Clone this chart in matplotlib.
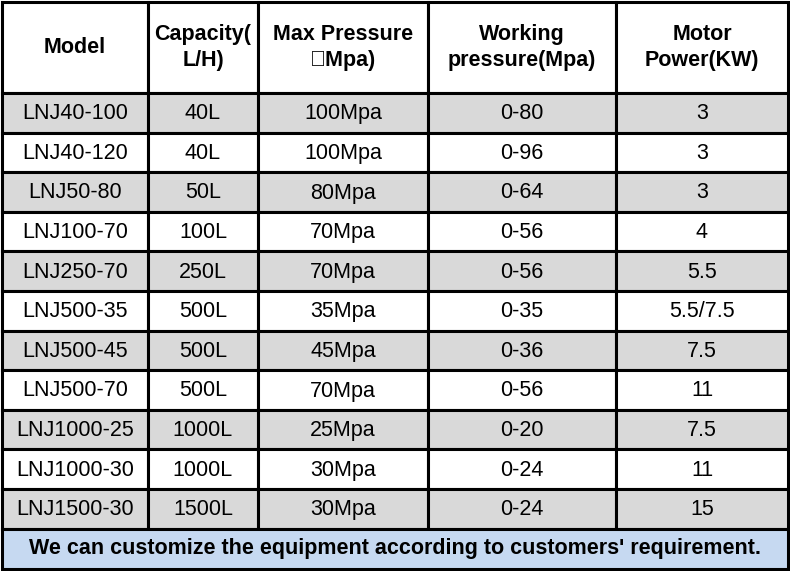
import matplotlib.pyplot as plt
from matplotlib.patches import Rectangle

headers = ["Model", "Capacity(\nL/H)", "Max Pressure\n\uff08Mpa)", "Working\npressure(Mpa)", "Motor\nPower(KW)"]
models = ["LNJ40-100", "LNJ40-120", "LNJ50-80", "LNJ100-70", "LNJ250-70", "LNJ500-35",
          "LNJ500-45", "LNJ500-70", "LNJ1000-25", "LNJ1000-30", "LNJ1500-30"]
capacity = ["40L", "40L", "50L", "100L", "250L", "500L", "500L", "500L", "1000L", "1000L", "1500L"]
max_pressure = ["100Mpa", "100Mpa", "80Mpa", "70Mpa", "70Mpa", "35Mpa", "45Mpa", "70Mpa",
                "25Mpa", "30Mpa", "30Mpa"]
working = ["0-80", "0-96", "0-64", "0-56", "0-56", "0-35", "0-36", "0-56", "0-20", "0-24", "0-24"]
power = ["3", "3", "3", "4", "5.5", "5.5/7.5", "7.5", "11", "7.5", "11", "15"]
footer = "We can customize the equipment according to customers' requirement."

col_x = [2, 148, 258, 428, 616, 788]
header_top, header_bot = 2, 93
row_h = 39.6
footer_bot = 569

fig = plt.figure(figsize=(7.9, 5.71), dpi=100)
ax = fig.add_axes([0, 0, 1, 1])
ax.set_xlim(0, 790)
ax.set_ylim(571, 0)
ax.axis("off")

font = ["Liberation Sans", "Noto Sans CJK SC"]
lw = 2.2

# header
for i, h in enumerate(headers):
    x0, x1 = col_x[i], col_x[i + 1]
    ax.add_patch(Rectangle((x0, header_top), x1 - x0, header_bot - header_top,
                           facecolor="white", edgecolor="black", lw=lw))
    ax.text((x0 + x1) / 2, (header_top + header_bot) / 2, h, ha="center", va="center",
            fontsize=15.5, fontweight="bold", family=font, linespacing=1.3)

columns = [models, capacity, max_pressure, working, power]
for r in range(len(models)):
    y0 = header_bot + r * row_h
    fill = "#d9d9d9" if r % 2 == 0 else "white"
    for c, col in enumerate(columns):
        x0, x1 = col_x[c], col_x[c + 1]
        ax.add_patch(Rectangle((x0, y0), x1 - x0, row_h, facecolor=fill,
                               edgecolor="black", lw=lw))
        ax.text((x0 + x1) / 2, y0 + row_h / 2 + 1, col[r], ha="center", va="center",
                fontsize=15.5, family=font)

fy0 = header_bot + len(models) * row_h
ax.add_patch(Rectangle((col_x[0], fy0), col_x[-1] - col_x[0], footer_bot - fy0,
                       facecolor="#c6d9f1", edgecolor="black", lw=lw))
ax.text((col_x[0] + col_x[-1]) / 2, (fy0 + footer_bot) / 2, footer, ha="center",
        va="center", fontsize=15.5, fontweight="bold", family=font)

fig.savefig("out.png", dpi=100)
